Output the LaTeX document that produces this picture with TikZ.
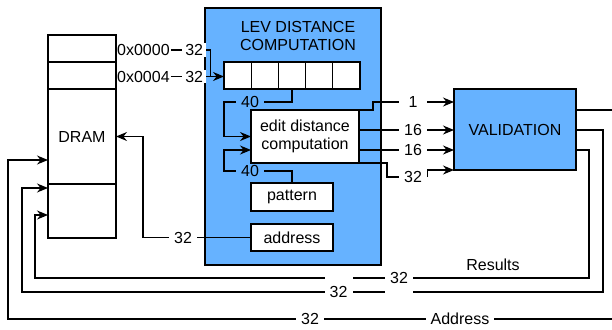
\documentclass[tikz,border=0pt]{standalone}
\usepackage{fontspec}
\setmainfont{Liberation Sans}
\usetikzlibrary{arrows.meta,positioning}
\definecolor{levblue}{RGB}{102,178,255}

\begin{document}
\begin{tikzpicture}[x=1pt, y=-1pt,
    every node/.style={font=\fontsize{16}{18.5}\selectfont},
    box/.style={rectangle, draw, line width=1.1pt, fill=white, inner sep=0pt, outer sep=0pt},
    blu/.style={rectangle, draw, line width=1.1pt, fill=levblue, inner sep=0pt, outer sep=0pt},
    lab/.style={inner xsep=5pt, inner ysep=2pt, minimum width=28pt},
    wlab/.style={lab, fill=white},
    wire/.style={line width=1.1pt},
    arr/.style={-{Stealth[length=11pt,width=9pt]}, line width=1.2pt}]

    \useasboundingbox (0,0) rectangle (612,329);

    % DRAM
    \node[box, minimum width=68pt, minimum height=27pt] (d1) at (82,48.5) {};
    \node[box, minimum width=68pt, minimum height=27pt] (d2) at (82,75.5) {};
    \node[box, minimum width=68pt, minimum height=95pt] (dm) at (82,136.5) {DRAM};
    \node[box, minimum width=68pt, minimum height=54pt] (d4) at (82,211) {};

    % LEV distance block
    \node[blu, minimum width=176pt, minimum height=257pt] (lev) at (293,136.5) {};
    \node[align=center] (title) at (298,36) {LEV DISTANCE\\COMPUTATION};
    \foreach \i in {1,...,5}
        \node[box, minimum width=27.2pt, minimum height=27pt] (c\i) at ({224+27.2*(\i-0.5)},75.5) {};
    \node[box, minimum width=108pt, minimum height=53pt, align=center] (edit) at (305,136.5) {edit distance\\computation};
    \node[box, minimum width=82pt, minimum height=28pt] (pattern) at (292,197) {pattern};
    \node[box, minimum width=82pt, minimum height=27pt] (address) at (292,237.5) {address};

    % Validation
    \node[blu, minimum width=122pt, minimum height=81pt] (val) at (515,129.5) {VALIDATION};

    % Labels
    \node[inner sep=1pt, anchor=west] (a0) at (116,50) {0x0000};
    \node[inner sep=1pt, anchor=west] (a4) at (116,76.5) {0x0004};
    \node[fill=white, inner xsep=1.5pt, inner ysep=1pt, minimum width=24pt, anchor=west] (w0) at (182,50) {32};
    \node[fill=white, inner xsep=1.5pt, inner ysep=1pt, minimum width=24pt, anchor=west] (w4) at (182,76.5) {32};
    \node[lab] (l40a) at (250,102) {40};
    \node[lab] (l40b) at (250,171) {40};
    \node[lab] (l1) at (413,102) {1};
    \node[lab] (l16a) at (413,130) {16};
    \node[lab] (l16b) at (413,150) {16};
    \node[lab] (l32v) at (413,177) {32};
    \node[lab] (l32a) at (183,237.5) {32};

    % Register inputs
    \draw[wire] (a0) -- (w0);
    \draw[wire] (a4) -- (w4);
    \draw[wire] (w0.east) -- ++(4,0) |- (w4 -| c1.west);
    \draw[arr] (w4) -- (w4 -| c1.west);

    % Into edit distance
    \draw[wire] (c3.south) |- (l40a);
    \draw[arr] (l40a) -- (l40a -| c1.west) |- (edit.west);
    \draw[wire] (pattern.north) |- (l40b);
    \draw[arr] (l40b) -- (l40b -| c1.west) |- (edit.west |- l16b);

    % Address back to DRAM
    \draw[wire] (address) -- (l32a);
    \draw[arr] (l32a) -- ++(-40,0) |- (dm.east);

    % Edit distance to validation
    \draw[wire] (edit.north east) -- ++(14,0) |- (l1);
    \draw[wire] (edit.east |- l16a) -- (l16a);
    \draw[wire] (edit.east |- l16b) -- (l16b);
    \draw[wire] (edit.south east) -- ++(28,0) |- (l32v);
    \draw[arr] (l1) -- (l1 -| val.west);
    \draw[arr] (l16a) -- (l16a -| val.west);
    \draw[arr] (l16b) -- (l16b -| val.west);
    \draw[arr] (l32v.east) |- (val.south west);

    % Validation back to DRAM
    \draw[wire] (val.east |- 0,110) -- (612,110);
    \draw[arr] (val.east |- l16a) -| (603,292) -- (22,292) |- (d4.west |- 0,188);
    \draw[arr] (val.east |- l16b) -| (589,278) -- (35,278) |- (d4.west |- 0,215);
    \draw[arr] (612,319) -- (8,319) |- (dm.west |- 0,160);

    \node[wlab, minimum height=32pt] (l32c) at (399,278) {32};
    \node[wlab, minimum height=32pt] (l32b) at (338.5,292) {32};
    \node[wlab] (l32d) at (310,319) {32};
    \node[wlab] (addr) at (460,319) {Address};
    \node (res) at (493,265) {Results};
\end{tikzpicture}
\end{document}
